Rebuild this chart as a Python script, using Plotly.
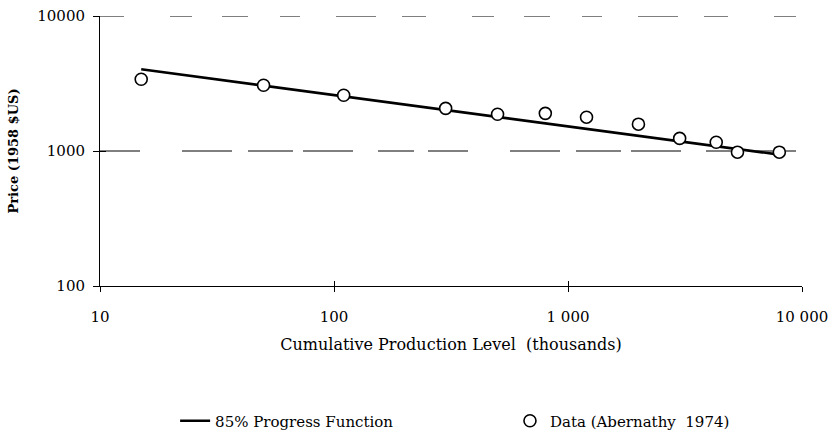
import plotly.graph_objects as go

# Data (cumulative production in thousands, price in 1958 $US)
data_x = [15, 50, 110, 300, 500, 800, 1200, 2000, 3000, 4300, 5300, 8000]
data_y = [3400, 3070, 2590, 2070, 1870, 1900, 1780, 1580, 1240, 1160, 980, 980]

# 85% progress function end points
fit_x = [15, 8000]
fit_y = [4030, 940]

x_tickvals = [10, 100, 1000, 10000]
x_ticktext = ["10", "100", "1 000", "10 000"]
y_tickvals = [100, 1000, 10000]
y_ticktext = ["100", "1000", "10000"]
grid_levels = [1000, 10000]

SERIF = "DejaVu Serif"

fig = go.Figure()
fig.add_trace(go.Scatter(
    x=fit_x, y=fit_y, mode="lines", name="85% Progress Function",
    line=dict(color="black", width=2.6), legend="legend",
))
fig.add_trace(go.Scatter(
    x=data_x, y=data_y, mode="markers", name="Data (Abernathy  1974)",
    marker=dict(symbol="circle", size=12, color="white",
                line=dict(color="black", width=1.6)), legend="legend2",
))
# invisible trace to bind the overlaid axes (inside ticks)
fig.add_trace(go.Scatter(x=[10], y=[100], xaxis="x2", yaxis="y2",
                         mode="markers", marker=dict(opacity=0),
                         showlegend=False, hoverinfo="skip"))

dashes = {1000: "40px,42px,50px,16px,45px,10px,50px,25px,36px,14px",
          10000: "24px,46px,22px,30px,26px,32px,20px,36px,40px,26px"}
for lvl in grid_levels:
    fig.add_shape(type="line", xref="paper", yref="y", x0=0, x1=1, y0=lvl, y1=lvl,
                  line=dict(color="black", width=1, dash=dashes[lvl]), layer="below")

leg_common = dict(orientation="h", yanchor="middle", xanchor="left", y=-0.5,
                  itemwidth=30, font=dict(family=SERIF, size=15),
                  bgcolor="rgba(0,0,0,0)")

fig.update_layout(
    width=832, height=444,
    margin=dict(l=100, r=30, t=16, b=158, autoexpand=False),
    paper_bgcolor="white", plot_bgcolor="white",
    font=dict(family=SERIF, size=15, color="black"),
    showlegend=True,
    legend=dict(x=0.107, **leg_common),
    legend2=dict(x=0.584, **leg_common),
    xaxis=dict(
        type="log", range=[1, 4], tickvals=x_tickvals, ticktext=x_ticktext,
        showgrid=False, zeroline=False, showline=True, linecolor="black", linewidth=1,
        ticks="outside", ticklen=5, tickcolor="black", tickwidth=1,
        ticklabelstandoff=12, tickfont=dict(size=15), automargin=False,
        title=dict(text="Cumulative Production Level  (thousands)", standoff=13,
                   font=dict(size=16)),
    ),
    yaxis=dict(
        type="log", range=[2, 4], tickvals=y_tickvals, ticktext=y_ticktext,
        showgrid=False, automargin=False,
        zeroline=False, showline=True, linecolor="black", linewidth=1,
        ticks="outside", ticklen=6, tickcolor="black", tickwidth=1,
        ticklabelstandoff=5, tickfont=dict(size=15),
        title=dict(text="<b>Price (1958 $US)</b>", standoff=15, font=dict(size=13)),
    ),
    xaxis2=dict(type="log", range=[1, 4], overlaying="x", anchor="y", side="bottom",
                tickvals=x_tickvals, showticklabels=False, ticks="inside", ticklen=5,
                tickcolor="black", showgrid=False, zeroline=False, showline=False),
    yaxis2=dict(type="log", range=[2, 4], overlaying="y", anchor="x", side="left",
                tickvals=y_tickvals, showticklabels=False, ticks="inside", ticklen=6,
                tickcolor="black", showgrid=False, zeroline=False, showline=False),
)

fig.write_html("out.html")
